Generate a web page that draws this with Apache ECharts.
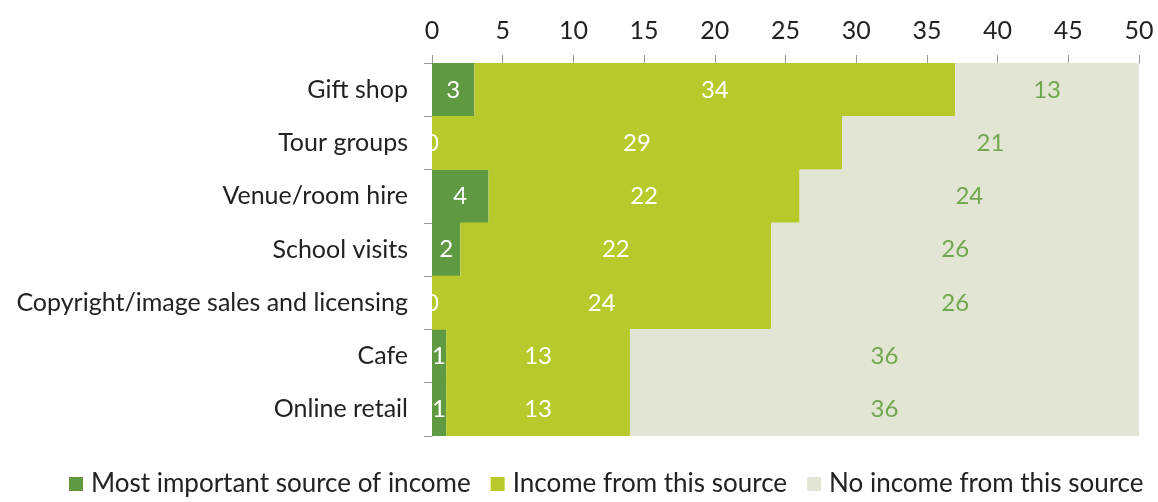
<!DOCTYPE html>
<html>
<head>
<meta charset="utf-8">
<script src="https://cdn.jsdelivr.net/npm/echarts@6/dist/echarts.min.js"></script>
<style>
  html, body { margin: 0; padding: 0; background: #fff; }
  #chart { width: 1158px; height: 502px; }
</style>
</head>
<body>
<div id="chart"></div>
<script>
// Income sources, number of organisations in each group
const categories = [
  'Gift shop',
  'Tour groups',
  'Venue/room hire',
  'School visits',
  'Copyright/image sales and licensing',
  'Cafe',
  'Online retail'
];
const mostImportant = [3, 0, 4, 2, 0, 1, 1];
const incomeFromSource = [34, 29, 22, 22, 24, 13, 13];
const noIncome = [13, 21, 24, 26, 26, 36, 36];
const seriesNames = [
  'Most important source of income',
  'Income from this source',
  'No income from this source'
];
const xTicks = { min: 0, max: 50, interval: 5 };

const FONT = 'Lato, "Open Sans", sans-serif';
const colors = ['#5f9a43', '#b8c92b', '#e3e5d4'];
const labelColors = ['#ffffff', '#ffffff', '#6fa84e'];

function barSeries(name, values, i) {
  return {
    name: name,
    type: 'bar',
    stack: 'total',
    data: values,
    // slightly wider than a band so neighbouring rows leave no seam
    barWidth: 54,
    itemStyle: { color: colors[i] },
    label: {
      show: true,
      position: 'inside',
      color: labelColors[i],
      fontFamily: FONT,
      fontSize: 24
    },
    emphasis: { disabled: true }
  };
}

const chart = echarts.init(document.getElementById('chart'));
chart.setOption({
  animation: false,
  textStyle: { fontFamily: FONT },
  grid: { left: 432, right: 19, top: 63, bottom: 66, containLabel: false },
  legend: {
    bottom: 0,
    left: 64,
    itemWidth: 14,
    itemHeight: 14,
    itemGap: 20,
    icon: 'rect',
    textStyle: { fontFamily: FONT, fontSize: 26, color: '#222', padding: [0, 0, 0, 3] },
    data: seriesNames
  },
  xAxis: {
    type: 'value',
    position: 'top',
    min: xTicks.min,
    max: xTicks.max,
    interval: xTicks.interval,
    axisLine: { show: true, lineStyle: { color: '#999', width: 1 } },
    axisTick: { show: true, length: 8, lineStyle: { color: '#999' } },
    splitLine: { show: false },
    axisLabel: { fontFamily: FONT, fontSize: 25, color: '#222', margin: 20 }
  },
  yAxis: {
    type: 'category',
    inverse: true,
    data: categories,
    axisLine: { show: true, lineStyle: { color: '#999', width: 1 } },
    axisTick: { show: true, length: 8, lineStyle: { color: '#999' } },
    splitLine: { show: false },
    splitArea: { show: false },
    axisLabel: { fontFamily: FONT, fontSize: 25, color: '#222', margin: 24 }
  },
  series: [
    barSeries(seriesNames[0], mostImportant, 0),
    barSeries(seriesNames[1], incomeFromSource, 1),
    barSeries(seriesNames[2], noIncome, 2)
  ]
});
</script>
</body>
</html>
